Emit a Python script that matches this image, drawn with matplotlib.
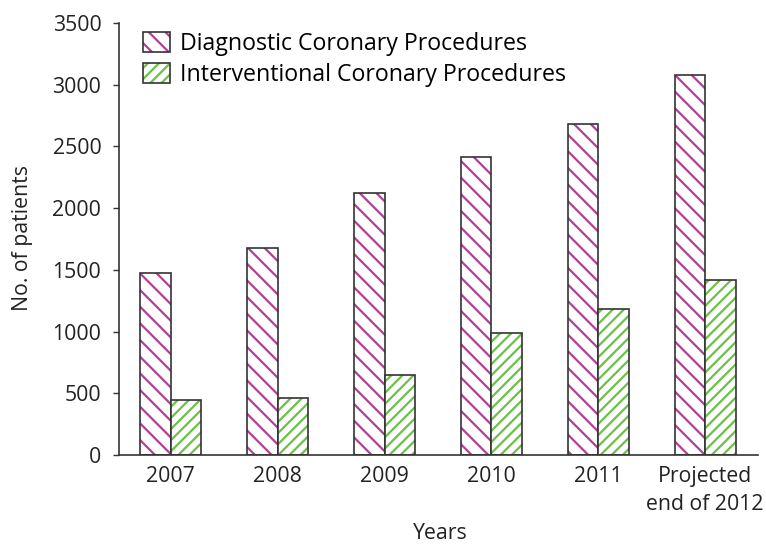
import matplotlib
matplotlib.use("Agg")
import matplotlib.pyplot as plt
from matplotlib.patches import Patch
from matplotlib.legend_handler import HandlerTuple
import numpy as np

categories = ["2007", "2008", "2009", "2010", "2011", "Projected\nend of 2012"]
diagnostic = [1475, 1677, 2120, 2412, 2680, 3080]
interventional = [445, 462, 648, 988, 1183, 1420]
series_names = ["Diagnostic Coronary Procedures", "Interventional Coronary Procedures"]

pink = "#b43f98"
green = "#6cc04a"
edge = "#333333"
txt = "#222222"

plt.rcParams['font.family'] = ['Open Sans', 'DejaVu Sans']
plt.rcParams['hatch.linewidth'] = 1.6

fig = plt.figure(figsize=(7.66, 5.47), dpi=100)
ax = fig.add_axes([0.155, 0.168, 0.835, 0.79])

x = np.arange(len(categories))
w = 0.285
hatches = ['\\\\', '///']
for vals, off, col, hat in [(diagnostic, -w/2, pink, hatches[0]), (interventional, w/2, green, hatches[1])]:
    ax.bar(x + off, vals, w, color='white', edgecolor=col, hatch=hat, linewidth=0)
    ax.bar(x + off, vals, w, fill=False, edgecolor=edge, linewidth=1.2)

ax.set_xlim(-0.487, 5.497)
ax.set_ylim(0, 3500)
ax.set_yticks(np.arange(0, 3501, 500))
ax.set_xticks(x)
ax.set_xticklabels(categories, fontsize=15.3, color=txt, linespacing=1.4)
ax.tick_params(axis='x', length=0, pad=8)
ax.tick_params(axis='y', labelsize=15.3, labelcolor=txt, length=4.5, width=1.0, color=edge, pad=8)
for s in ['top', 'right']:
    ax.spines[s].set_visible(False)
for s in ['left', 'bottom']:
    ax.spines[s].set_color(edge)
    ax.spines[s].set_linewidth(1.2)

ax.set_ylabel("No. of patients", fontsize=15.3, color=txt)
ax.yaxis.set_label_coords(-0.134, 0.502)
fig.text(0.575, 0.024, "Years", fontsize=15.3, color=txt, ha='center', va='center')

handles = []
for col, hat in [(pink, hatches[0]), (green, hatches[1])]:
    fillp = Patch(facecolor='white', edgecolor=col, hatch=hat, linewidth=0)
    outline = Patch(facecolor='none', edgecolor=edge, linewidth=1.2)
    handles.append((fillp, outline))
leg = ax.legend(handles, series_names, loc='upper left', bbox_to_anchor=(0.0376, 0.979),
                frameon=False, fontsize=16.7, handlelength=1.19, handleheight=0.93,
                handletextpad=0.42, labelspacing=0.3, borderpad=0, borderaxespad=0,
                handler_map={tuple: HandlerTuple(ndivide=1, pad=0)})

fig.savefig("out.png", dpi=100)
